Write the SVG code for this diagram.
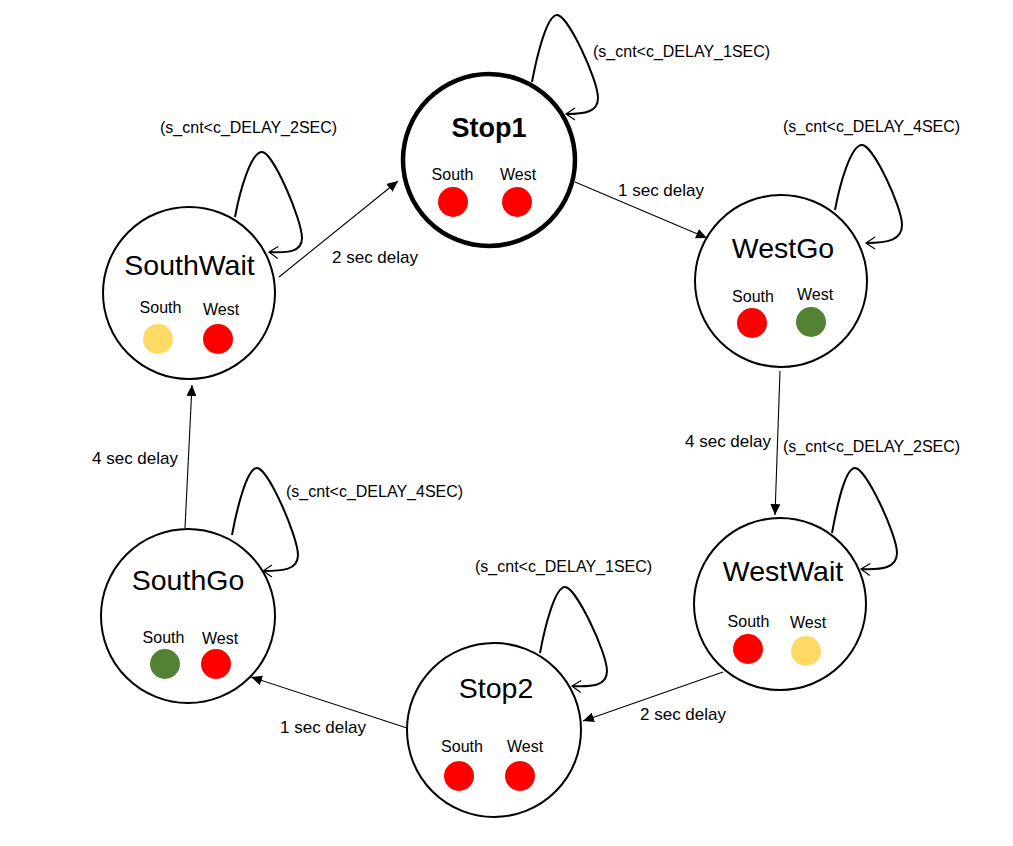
<svg xmlns="http://www.w3.org/2000/svg" width="1013" height="846" viewBox="0 0 1013 846">
<style>
text{font-family:"Liberation Sans",Arial,sans-serif;fill:#000}
.state{fill:#fff;stroke:#000;stroke-width:2}
.bold{stroke-width:4.5}
.name{font-size:28.5px;text-anchor:middle}
.nameb{font-size:27px;font-weight:bold;text-anchor:middle}
.lbl{font-size:16px;text-anchor:middle}
.edge{fill:none;stroke:#000;stroke-width:1.1;marker-end:url(#fa)}
.loop{fill:none;stroke:#000;stroke-width:2;marker-end:url(#oa)}
.el{font-size:17px}
.cl{font-size:16px}
.red{fill:#FF0000}
.grn{fill:#548235}
.yel{fill:#FFD966}
</style>
<defs>
<marker id="fa" markerUnits="userSpaceOnUse" markerWidth="12" markerHeight="10" refX="11" refY="5" orient="auto">
<path d="M0,0 L11,5 L0,10 Z" fill="#000"/>
</marker>
<marker id="oa" markerUnits="userSpaceOnUse" markerWidth="12" markerHeight="14" refX="10" refY="7" orient="auto">
<path d="M1,1 L10,7 L1,13" fill="none" stroke="#000" stroke-width="1.2"/>
</marker>
</defs>
<rect width="1013" height="846" fill="#fff"/>

<g id="connectors">
<line class="edge" x1="575" y1="182" x2="707" y2="238"/>
<line class="edge" x1="780" y1="371" x2="775" y2="515"/>
<line class="edge" x1="723" y1="672" x2="583" y2="721"/>
<line class="edge" x1="407" y1="728" x2="251" y2="677"/>
<line class="edge" x1="185" y1="528" x2="192" y2="385"/>
<line class="edge" x1="279" y1="277" x2="398" y2="181"/>
<path class="loop" d="M532,82 C537,55 547,15 557,15 C568,15 598,80 598,98 C598,112 585,114 566,114"/>
<path class="loop" d="M835,210 C840,183 851,145 862,145 C873,145 902,207 902,225 C902,240 888,243 866,243"/>
<path class="loop" d="M832,533 C837,506 845,468 855,468 C866,468 897,535 897,553 C897,568 882,570 861,569"/>
<path class="loop" d="M540,653 C545,626 555,587 565,587 C576,587 607,653 607,671 C607,686 592,687 572,686"/>
<path class="loop" d="M232,535 C237,508 247,468 257,468 C268,468 298,537 298,555 C298,570 283,571 263,571"/>
<path class="loop" d="M235,217 C240,190 251,152 262,152 C273,152 302,220 302,238 C302,252 288,253 269,252"/>
<text class="el" x="618" y="196">1 sec delay</text>
<text class="el" x="685" y="447">4 sec delay</text>
<text class="el" x="640" y="720">2 sec delay</text>
<text class="el" x="280" y="733">1 sec delay</text>
<text class="el" x="92" y="464">4 sec delay</text>
<text class="el" x="332" y="263">2 sec delay</text>
<text class="cl" x="593" y="57">(s_cnt&lt;c_DELAY_1SEC)</text>
<text class="cl" x="783" y="132">(s_cnt&lt;c_DELAY_4SEC)</text>
<text class="cl" x="783" y="452">(s_cnt&lt;c_DELAY_2SEC)</text>
<text class="cl" x="475" y="572">(s_cnt&lt;c_DELAY_1SEC)</text>
<text class="cl" x="286" y="497">(s_cnt&lt;c_DELAY_4SEC)</text>
<text class="cl" x="160" y="133">(s_cnt&lt;c_DELAY_2SEC)</text>
</g>

<g id="Stop1">
<circle class="state bold" cx="489" cy="160" r="86"/>
<text class="nameb" x="489" y="137">Stop1</text>
<text class="lbl" x="452.5" y="180">South</text>
<text class="lbl" x="518" y="180">West</text>
<circle class="red" cx="453" cy="202" r="15"/>
<circle class="red" cx="517" cy="202" r="15"/>
</g>

<g id="WestGo">
<circle class="state" cx="781" cy="281" r="86"/>
<text class="name" x="783" y="258">WestGo</text>
<text class="lbl" x="753" y="302">South</text>
<text class="lbl" x="815" y="300">West</text>
<circle class="red" cx="752" cy="323" r="15"/>
<circle class="grn" cx="811" cy="322" r="15"/>
</g>

<g id="WestWait">
<circle class="state" cx="780" cy="604" r="86"/>
<text class="name" x="783" y="581">WestWait</text>
<text class="lbl" x="748.5" y="627">South</text>
<text class="lbl" x="808" y="628">West</text>
<circle class="red" cx="748" cy="649" r="15"/>
<circle class="yel" cx="806" cy="651" r="15"/>
</g>

<g id="Stop2">
<circle class="state" cx="494" cy="730" r="87"/>
<text class="name" x="496" y="698">Stop2</text>
<text class="lbl" x="462" y="752">South</text>
<text class="lbl" x="525" y="752">West</text>
<circle class="red" cx="459" cy="776" r="15"/>
<circle class="red" cx="520" cy="776" r="15"/>
</g>

<g id="SouthGo">
<circle class="state" cx="188" cy="616" r="87"/>
<text class="name" x="188" y="590">SouthGo</text>
<text class="lbl" x="163.5" y="643">South</text>
<text class="lbl" x="220" y="644">West</text>
<circle class="grn" cx="165" cy="664" r="15"/>
<circle class="red" cx="216" cy="664" r="15"/>
</g>

<g id="SouthWait">
<circle class="state" cx="189" cy="293" r="86"/>
<text class="name" x="189.5" y="275">SouthWait</text>
<text class="lbl" x="160.5" y="313">South</text>
<text class="lbl" x="221" y="315">West</text>
<circle class="yel" cx="158" cy="339" r="15"/>
<circle class="red" cx="218" cy="339" r="15"/>
</g>
</svg>
